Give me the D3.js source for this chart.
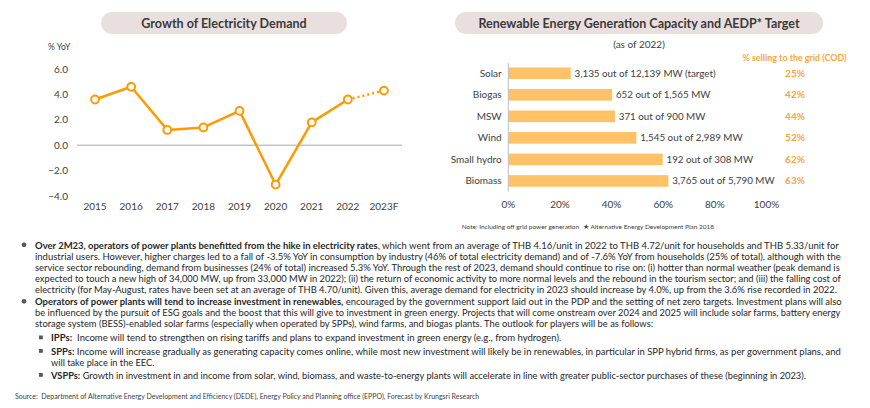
<!DOCTYPE html>
<html lang="en">
<head>
<meta charset="UTF-8">
<title>Electricity Demand and Renewable Capacity</title>
<script src="https://d3js.org/d3.v7.min.js"></script>
<style>
    body { margin: 0; background: #fff; }
    svg { display: block; font-family: Lato, "Open Sans", sans-serif; }
</style>
</head>
<body>
<svg id="chart" width="870" height="408"></svg>
<script>
// ---- data: growth of electricity demand ----
const years = ["2015", "2016", "2017", "2018", "2019", "2020", "2021", "2022", "2023F"];
const growth = [3.6, 4.6, 1.2, 1.4, 2.7, -3.1, 1.8, 3.6, 4.3];
const yTicks = [-4, -2, 0, 2, 4, 6];

// ---- data: renewable capacity vs AEDP target ----
const sources = ["Solar", "Biogas", "MSW", "Wind", "Small hydro", "Biomass"];
const shareOfTarget = [24.2, 40.2, 41.3, 49.6, 59.8, 62.0];
const capacityLabels = ["3,135 out of 12,139 MW (target)", "652 out of 1,565 MW", "371 out of 900 MW",
    "1,545 out of 2,989 MW", "192 out of 308 MW", "3,765 out of 5,790 MW"];
const gridShare = ["25%", "42%", "44%", "52%", "62%", "63%"];
const xTicks = [0, 20, 40, 60, 80, 100];

// ---- body text ----
const bodyLines = [
    [["Over 2M23, operators of power plants benefitted from the hike in electricity rates", true], [", which went from an average of THB 4.16/unit in 2022 to THB 4.72/unit for households and THB 5.33/unit for", false]],
    [["industrial users. However, higher charges led to a fall of -3.5% YoY in consumption by industry (46% of total electricity demand) and of -7.6% YoY from households (25% of total), although with the", false]],
    [["service sector rebounding, demand from businesses (24% of total) increased 5.3% YoY. Through the rest of 2023, demand should continue to rise on: (i) hotter than normal weather (peak demand is", false]],
    [["expected to touch a new high of 34,000 MW, up from 33,000 MW in 2022); (ii) the return of economic activity to more normal levels and the rebound in the tourism sector; and (iii) the falling cost of", false]],
    [["electricity (for May-August, rates have been set at an average of THB 4.70/unit). Given this, average demand for electricity in 2023 should increase by 4.0%, up from the 3.6% rise recorded in 2022.", false]],
    [["Operators of power plants will tend to increase investment in renewables,", true], [" encouraged by the government support laid out in the PDP and the setting of net zero targets. Investment plans will also", false]],
    [["be influenced by the pursuit of ESG goals and the boost that this will give to investment in green energy. Projects that will come onstream over 2024 and 2025 will include solar farms, battery energy", false]],
    [["storage system (BESS)-enabled solar farms (especially when operated by SPPs), wind farms, and biogas plants. The outlook for players will be as follows:", false]],
    [["IPPs:", true], ["  Income will tend to strengthen on rising tariffs and plans to expand investment in green energy (e.g., from hydrogen).", false]],
    [["SPPs:", true], [" Income will increase gradually as generating capacity comes online, while most new investment will likely be in renewables, in particular in SPP hybrid firms, as per government plans, and", false]],
    [["will take place in the EEC.", false]],
    [["VSPPs:", true], [" Growth in investment in and income from solar, wind, biomass, and waste-to-energy plants will accelerate in line with greater public-sector purchases of these (beginning in 2023).", false]]
];
const sourceNote = "Source:  Department of Alternative Energy Development and Efficiency (DEDE), Energy Policy and Planning office (EPPO), Forecast by Krungsri Research";

const svg = d3.select("#chart");
const orange = "#FF9900";
const textCol = "#404040";

// title pills
function pill(x0, x1, label) {
    svg.append("rect").attr("x", x0).attr("y", 12).attr("width", x1 - x0).attr("height", 22)
        .attr("rx", 11).attr("fill", "#E9DFDE");
    svg.append("text").attr("x", (x0 + x1) / 2).attr("y", 27.5).attr("text-anchor", "middle")
        .attr("font-size", 12.5).attr("font-weight", "bold").attr("fill", "#3a3a3a").text(label);
}
pill(101, 347, "Growth of Electricity Demand");
pill(455, 823, "Renewable Energy Generation Capacity and AEDP* Target");

// ---- line chart ----
const x = d3.scalePoint().domain(years).range([77, 402]).padding(0.5);
const y = d3.scaleLinear().domain([-4, 6]).range([196, 69]);

svg.append("text").attr("x", 48).attr("y", 50).attr("font-size", 8.5).attr("fill", textCol).text("% YoY");

svg.append("g").selectAll("text").data(yTicks).join("text")
    .attr("x", 68).attr("y", d => y(d) + 3.5).attr("text-anchor", "end")
    .attr("font-size", 10).attr("fill", textCol).text(d => d3.format(".1f")(d));

svg.append("line").attr("x1", 77).attr("x2", 402).attr("y1", y(0)).attr("y2", y(0))
    .attr("stroke", "#a6a6a6").attr("stroke-width", 1);

svg.append("g").selectAll("text").data(years).join("text")
    .attr("x", d => x(d)).attr("y", 209.5).attr("text-anchor", "middle")
    .attr("font-size", 10).attr("fill", textCol).text(d => d);

const pts = years.map((yr, i) => ({ yr, v: growth[i] }));
const line = d3.line().x(d => x(d.yr)).y(d => y(d.v));
svg.append("path").datum(pts.slice(0, 8)).attr("d", line)
    .attr("fill", "none").attr("stroke", orange).attr("stroke-width", 2.5).attr("stroke-linejoin", "round");
svg.append("path").datum(pts.slice(7)).attr("d", line)
    .attr("fill", "none").attr("stroke", orange).attr("stroke-width", 2.5).attr("stroke-dasharray", "2 3");
svg.append("g").selectAll("circle").data(pts).join("circle")
    .attr("cx", d => x(d.yr)).attr("cy", d => y(d.v)).attr("r", 3.9)
    .attr("fill", "#fff").attr("stroke", orange).attr("stroke-width", 2);

// ---- bar chart ----
const bx = d3.scaleLinear().domain([0, 100]).range([508.3, 766.5]);
const by = d3.scaleBand().domain(sources).range([62.5, 191.7]).paddingInner(0.46).paddingOuter(0.23);

svg.append("text").attr("x", 639).attr("y", 47.5).attr("text-anchor", "middle")
    .attr("font-size", 10).attr("fill", textCol).text("(as of 2022)");
svg.append("text").attr("x", 794.5).attr("y", 60.5).attr("text-anchor", "middle")
    .attr("font-size", 8.9).attr("font-weight", "bold").attr("fill", "#F7A541").text("% selling to the grid (COD)");

svg.append("g").selectAll("rect").data(sources).join("rect")
    .attr("x", bx(0)).attr("y", d => by(d)).attr("height", by.bandwidth())
    .attr("width", (d, i) => bx(shareOfTarget[i]) - bx(0)).attr("fill", "#FFC266");

svg.append("line").attr("x1", bx(0)).attr("x2", bx(0)).attr("y1", 63).attr("y2", 191.7)
    .attr("stroke", "#bfbfbf").attr("stroke-width", 1);

svg.append("g").selectAll("text").data(sources).join("text")
    .attr("x", 501.7).attr("y", d => by(d) + by.bandwidth() / 2 + 3.5).attr("text-anchor", "end")
    .attr("font-size", 10).attr("fill", textCol).text(d => d);

svg.append("g").selectAll("text").data(sources).join("text")
    .attr("x", (d, i) => bx(shareOfTarget[i]) + 3.8).attr("y", d => by(d) + by.bandwidth() / 2 + 3.5)
    .attr("font-size", 9.8).attr("fill", textCol).text((d, i) => capacityLabels[i]);

svg.append("g").selectAll("text").data(sources).join("text")
    .attr("x", 795).attr("y", d => by(d) + by.bandwidth() / 2 + 3.5).attr("text-anchor", "middle")
    .attr("font-size", 10).attr("font-weight", "bold").attr("fill", "#F7A541").text((d, i) => gridShare[i]);

svg.append("g").selectAll("text").data(xTicks).join("text")
    .attr("x", d => bx(d)).attr("y", 207.5).attr("text-anchor", "middle")
    .attr("font-size", 10).attr("fill", textCol).text(d => d + "%");

svg.append("text").attr("x", 461.7).attr("y", 228.5).attr("font-size", 6.5).attr("fill", textCol)
    .text("Note: Including off grid power generation");
svg.append("text").attr("x", 583).attr("y", 228.5).attr("font-size", 6.5).attr("fill", textCol)
    .text("\u2605 Alternative Energy Development Plan 2018");

// ---- body text ----
const lineLayout = [
    { x0: 35, x1: 839, y: 248.5, mark: "dot" },
    { x0: 35, x1: 840.7, y: 259.5 },
    { x0: 35, x1: 840, y: 270.5 },
    { x0: 35, x1: 841, y: 281.5 },
    { x0: 35, x1: 836.7, y: 292.5 },
    { x0: 35, x1: 841, y: 305, mark: "dot" },
    { x0: 35, x1: 840.7, y: 316 },
    { x0: 35, x1: 653.3, y: 327 },
    { x0: 51, x1: 561.7, y: 341, mark: "sq" },
    { x0: 51, x1: 841, y: 354.5, mark: "sq" },
    { x0: 51, x1: 154.3, y: 365.5 },
    { x0: 51, x1: 806, y: 378.5, mark: "sq" }
];

function fitLine(segs, x0, x1, yy, size, col) {
    const g = svg.append("g");
    const t = g.append("text").attr("x", 0).attr("y", 0).attr("font-size", size).attr("fill", col)
        .attr("xml:space", "preserve").style("white-space", "pre");
    segs.forEach(([s, b]) => t.append("tspan").attr("font-weight", b ? "bold" : null).text(s));
    const w = t.node().getComputedTextLength();
    g.attr("transform", `translate(${x0},${yy}) scale(${(x1 - x0) / w},1)`);
}

bodyLines.forEach((segs, i) => {
    const L = lineLayout[i];
    fitLine(segs, L.x0, L.x1, L.y, 10.2, "#262626");
    if (L.mark === "dot") {
        svg.append("circle").attr("cx", 24).attr("cy", L.y - 3.7).attr("r", 2.4).attr("fill", "#595959");
    } else if (L.mark === "sq") {
        svg.append("rect").attr("x", 39).attr("y", L.y - 5.5).attr("width", 3.8).attr("height", 3.8).attr("fill", "#595959");
    }
});

fitLine([[sourceNote, false]], 15, 480, 399, 7, textCol);
</script>
</body>
</html>
